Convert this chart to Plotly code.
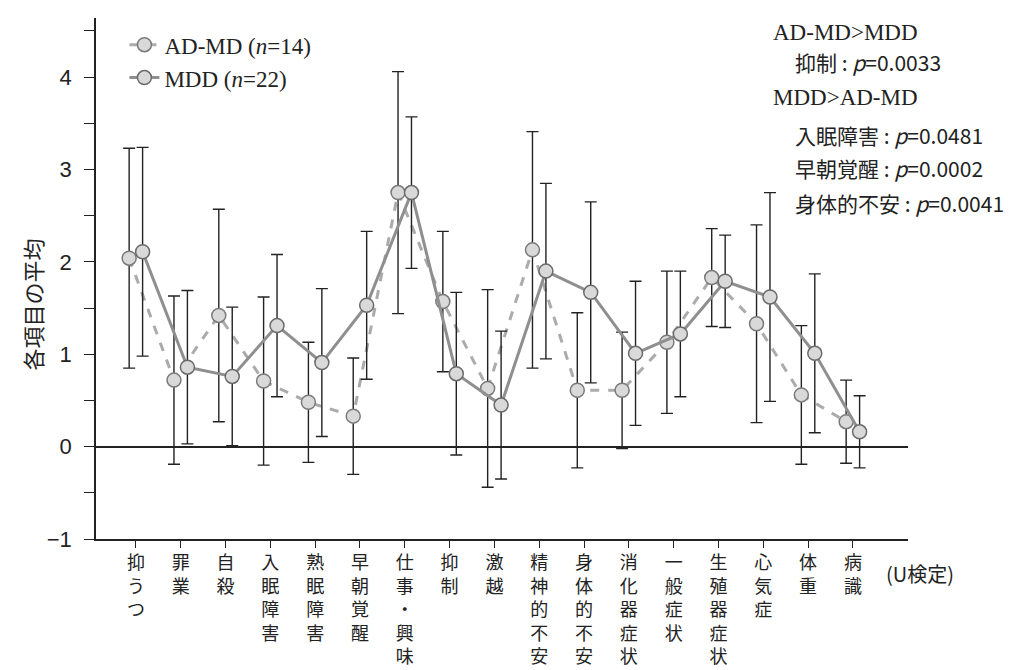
import plotly.graph_objects as go

categories = ["抑うつ", "罪業", "自殺", "入眠障害", "熟眠障害", "早朝覚醒", "仕事・興味",
              "抑制", "激越", "精神的不安", "身体的不安", "消化器症状", "一般症状",
              "生殖器症状", "心気症", "体重", "病識"]
admd_mean = [2.04, 0.72, 1.42, 0.71, 0.48, 0.33, 2.75, 1.57, 0.63, 2.13, 0.61, 0.61, 1.13, 1.83, 1.33, 0.56, 0.27]
admd_sd = [1.19, 0.91, 1.15, 0.91, 0.65, 0.63, 1.31, 0.76, 1.07, 1.28, 0.84, 0.63, 0.77, 0.53, 1.07, 0.75, 0.45]
mdd_mean = [2.11, 0.86, 0.76, 1.31, 0.91, 1.53, 2.75, 0.79, 0.45, 1.90, 1.67, 1.01, 1.22, 1.79, 1.62, 1.01, 0.16]
mdd_sd = [1.13, 0.83, 0.75, 0.77, 0.80, 0.80, 0.82, 0.88, 0.80, 0.95, 0.98, 0.78, 0.68, 0.50, 1.13, 0.86, 0.39]

series_names = ["AD-MD (<i>n</i>=14)", "MDD (<i>n</i>=22)"]
stats_lines = ["AD-MD>MDD", "抑制 : <i>p</i>=0.0033", "MDD>AD-MD",
               "入眠障害 : <i>p</i>=0.0481", "早朝覚醒 : <i>p</i>=0.0002", "身体的不安 : <i>p</i>=0.0041"]
y_title = "各項目の平均"
test_note = "(U検定)"

idx = list(range(len(categories)))
off = 0.15
serif = "Liberation Serif, DejaVu Serif, serif"
cjk = "Noto Sans CJK JP, sans-serif"
sans = "Liberation Sans, Arial, sans-serif"

fig = go.Figure()
fig.add_trace(go.Scatter(
    x=[i - off for i in idx], y=admd_mean, name=series_names[0], mode="lines+markers",
    line=dict(color="#ababab", width=3, dash="dash"),
    marker=dict(symbol="circle", size=14, color="#d9d9d9", line=dict(color="#7a7a7a", width=1.5)),
    error_y=dict(type="data", array=admd_sd, visible=True, color="#222", thickness=1.4, width=6),
))
fig.add_trace(go.Scatter(
    x=[i + off for i in idx], y=mdd_mean, name=series_names[1], mode="lines+markers",
    line=dict(color="#8f8f8f", width=3),
    marker=dict(symbol="circle", size=14, color="#d9d9d9", line=dict(color="#6a6a6a", width=1.5)),
    error_y=dict(type="data", array=mdd_sd, visible=True, color="#222", thickness=1.4, width=6),
))

ticktext = ["<br>".join(list(c)) for c in categories]

fig.update_layout(
    width=1028, height=670,
    margin=dict(l=88, r=128, t=10, b=134),
    paper_bgcolor="white", plot_bgcolor="white",
    showlegend=True,
    legend=dict(x=0.035, y=0.99, xanchor="left", yanchor="top",
                font=dict(family=serif, size=23, color="#222"),
                bgcolor="rgba(0,0,0,0)", tracegroupgap=0),
    xaxis=dict(range=[-0.89, 17.23], tickmode="array", tickvals=idx, ticktext=ticktext,
               showline=True, linecolor="#222", linewidth=1.5, ticks="outside", ticklen=7,
               tickcolor="#222", showgrid=False, zeroline=False,
               tickfont=dict(family=cjk, size=18, color="#222"), tickangle=0),
    yaxis=dict(range=[-1, 4.64], tickmode="array", tickvals=[-1, 0, 1, 2, 3, 4],
               ticktext=["−1", "0", "1", "2", "3", "4"],
               showline=True, linecolor="#222", linewidth=1.5, ticks="outside", ticklen=10,
               tickcolor="#222", showgrid=False, ticklabelstandoff=8,
               zeroline=True, zerolinecolor="#222", zerolinewidth=1.5,
               minor=dict(tickvals=[-0.5, 0.5, 1.5, 2.5, 3.5, 4.5], ticks="outside", ticklen=10, tickcolor="#222"),
               tickfont=dict(family=sans, size=22, color="#222")),
)

fig.add_annotation(text=y_title, xref="paper", yref="paper", x=-0.079, y=0.45, xanchor="center",
                   yanchor="middle", textangle=-90, showarrow=False,
                   font=dict(family=cjk, size=22, color="#222"))

ann_pos = [(0.831, 0.973, serif, 23), (0.858, 0.915, cjk, 21), (0.831, 0.848, serif, 23),
           (0.858, 0.776, cjk, 21), (0.858, 0.712, cjk, 21), (0.858, 0.645, cjk, 21)]
for t, (xp, yp, fam, sz) in zip(stats_lines, ann_pos):
    fig.add_annotation(text=t, xref="paper", yref="paper", x=xp, y=yp, xanchor="left", yanchor="middle",
                       showarrow=False, font=dict(family=fam, size=sz, color="#222"))
fig.add_annotation(text=test_note, xref="paper", yref="paper", x=0.970, y=-0.066, xanchor="left",
                   yanchor="middle", showarrow=False, font=dict(family=cjk, size=20, color="#222"))

fig.write_html("out.html")
